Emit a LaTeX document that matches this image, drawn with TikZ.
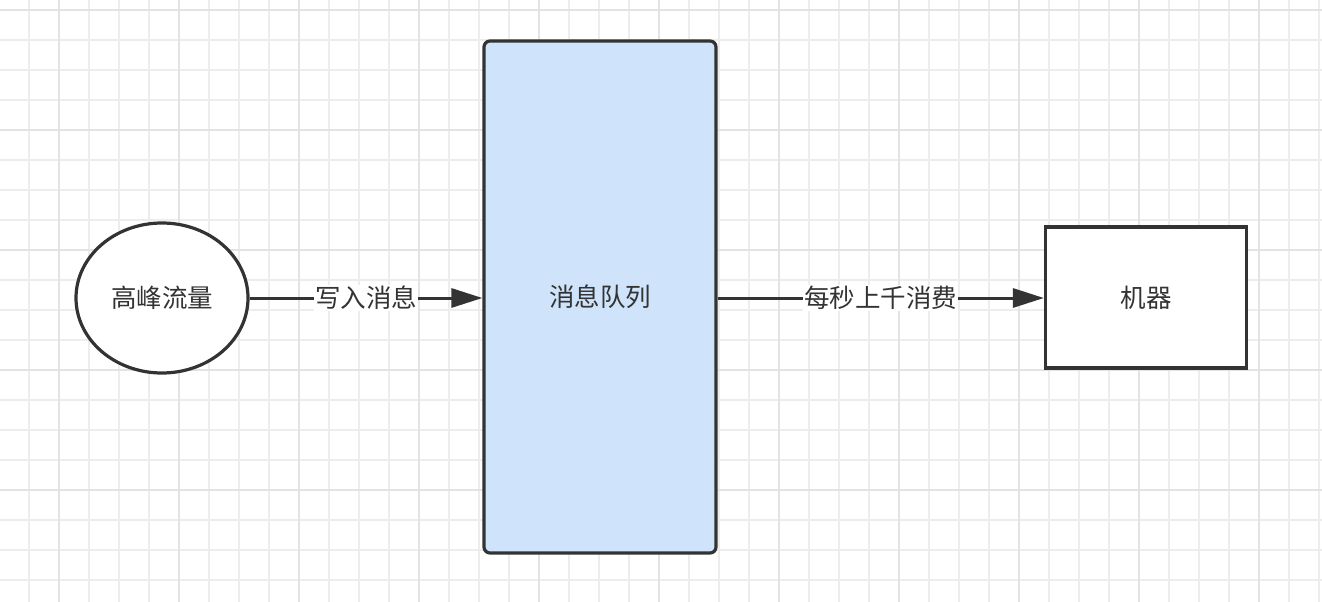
\documentclass[tikz,border=0pt]{standalone}
\usepackage{fontspec}
\setmainfont{Noto Sans CJK SC}
\usetikzlibrary{shapes.geometric,arrows.meta}
\definecolor{gridc}{HTML}{EDEDED}
\definecolor{gridm}{HTML}{E3E3E3}
\definecolor{edge}{HTML}{333333}
\definecolor{qfill}{HTML}{CFE4FA}
\tikzset{
  shapeline/.style={draw=edge, line width=3.2pt},
  lbl/.style={font=\fontsize{25.5}{30}\selectfont, text=edge},
  conn/.style={draw=edge, line width=3pt, -{Triangle[length=31pt,width=19pt]}},
  edgelbl/.style={lbl, fill=white, inner sep=1pt}
}
\begin{document}
\begin{tikzpicture}[x=1pt,y=-1pt]
\useasboundingbox (0,0) rectangle (1322,602);
\fill[white] (0,0) rectangle (1322,602);
% grid
\foreach \gx in {29,59,...,1322} \draw[gridc, line width=1.5pt] (\gx,0) -- (\gx,602);
\foreach \gy in {10,40,...,602} \draw[gridc, line width=1.5pt] (0,\gy) -- (1322,\gy);
\foreach \gx in {59,179,...,1322} \draw[gridm, line width=2pt] (\gx,0) -- (\gx,602);
\foreach \gy in {10,130,...,602} \draw[gridm, line width=2pt] (0,\gy) -- (1322,\gy);
% nodes
\node[ellipse, shapeline, fill=white, minimum width=172pt, minimum height=150pt, inner sep=0pt, lbl] (peak) at (162,298) {高峰流量};
\node[shapeline, fill=qfill, rounded corners=6pt, minimum width=232pt, minimum height=512pt, inner sep=0pt, lbl] (queue) at (600,297) {消息队列};
\node[shapeline, fill=white, minimum width=201pt, minimum height=141pt, inner sep=0pt, lbl] (machine) at (1146,297.5) {机器};
% connectors
\draw[conn] (peak.east) -- node[edgelbl] {写入消息} (queue.west |- peak.east);
\draw[conn] (queue.east |- peak.east) -- node[edgelbl] {每秒上千消费} (machine.west |- peak.east);
\end{tikzpicture}
\end{document}
